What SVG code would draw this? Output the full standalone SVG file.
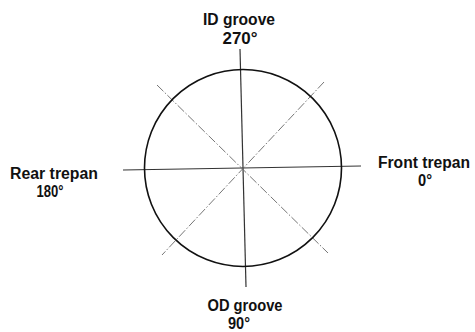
<svg xmlns="http://www.w3.org/2000/svg" width="475" height="332" viewBox="0 0 475 332">
<style>
text{font-family:"Liberation Sans",Arial,sans-serif;font-weight:bold;font-size:16px;fill:#111;text-anchor:middle}
.axis{stroke:#333;stroke-width:1.2;fill:none}
.diag{stroke:#666;stroke-width:0.9;stroke-dasharray:9 2 1.5 2;fill:none}
.ring{stroke:#111;stroke-width:1.6;fill:none}
</style>
<rect width="475" height="332" fill="#fff"/>
<g id="connectors">
<line class="axis" x1="240" y1="49" x2="246" y2="287"/>
<line class="axis" x1="123" y1="170" x2="361" y2="166"/>
<line class="diag" x1="157" y1="85" x2="328" y2="253"/>
<line class="diag" x1="324" y1="82" x2="162" y2="255"/>
</g>
<g id="circle"><circle class="ring" cx="243" cy="168" r="98.5"/></g>
<g id="id-groove"><text x="239" y="25" textLength="72" lengthAdjust="spacingAndGlyphs">ID groove</text><text x="240" y="44" textLength="35" lengthAdjust="spacingAndGlyphs">270°</text></g>
<g id="rear-trepan"><text x="54" y="179" textLength="88" lengthAdjust="spacingAndGlyphs">Rear trepan</text><text x="50" y="197" textLength="27" lengthAdjust="spacingAndGlyphs">180°</text></g>
<g id="front-trepan"><text x="424" y="168" textLength="92" lengthAdjust="spacingAndGlyphs">Front trepan</text><text x="425" y="186" textLength="14" lengthAdjust="spacingAndGlyphs">0°</text></g>
<g id="od-groove"><text x="245" y="311" textLength="75" lengthAdjust="spacingAndGlyphs">OD groove</text><text x="239" y="329" textLength="22" lengthAdjust="spacingAndGlyphs">90°</text></g>
</svg>
